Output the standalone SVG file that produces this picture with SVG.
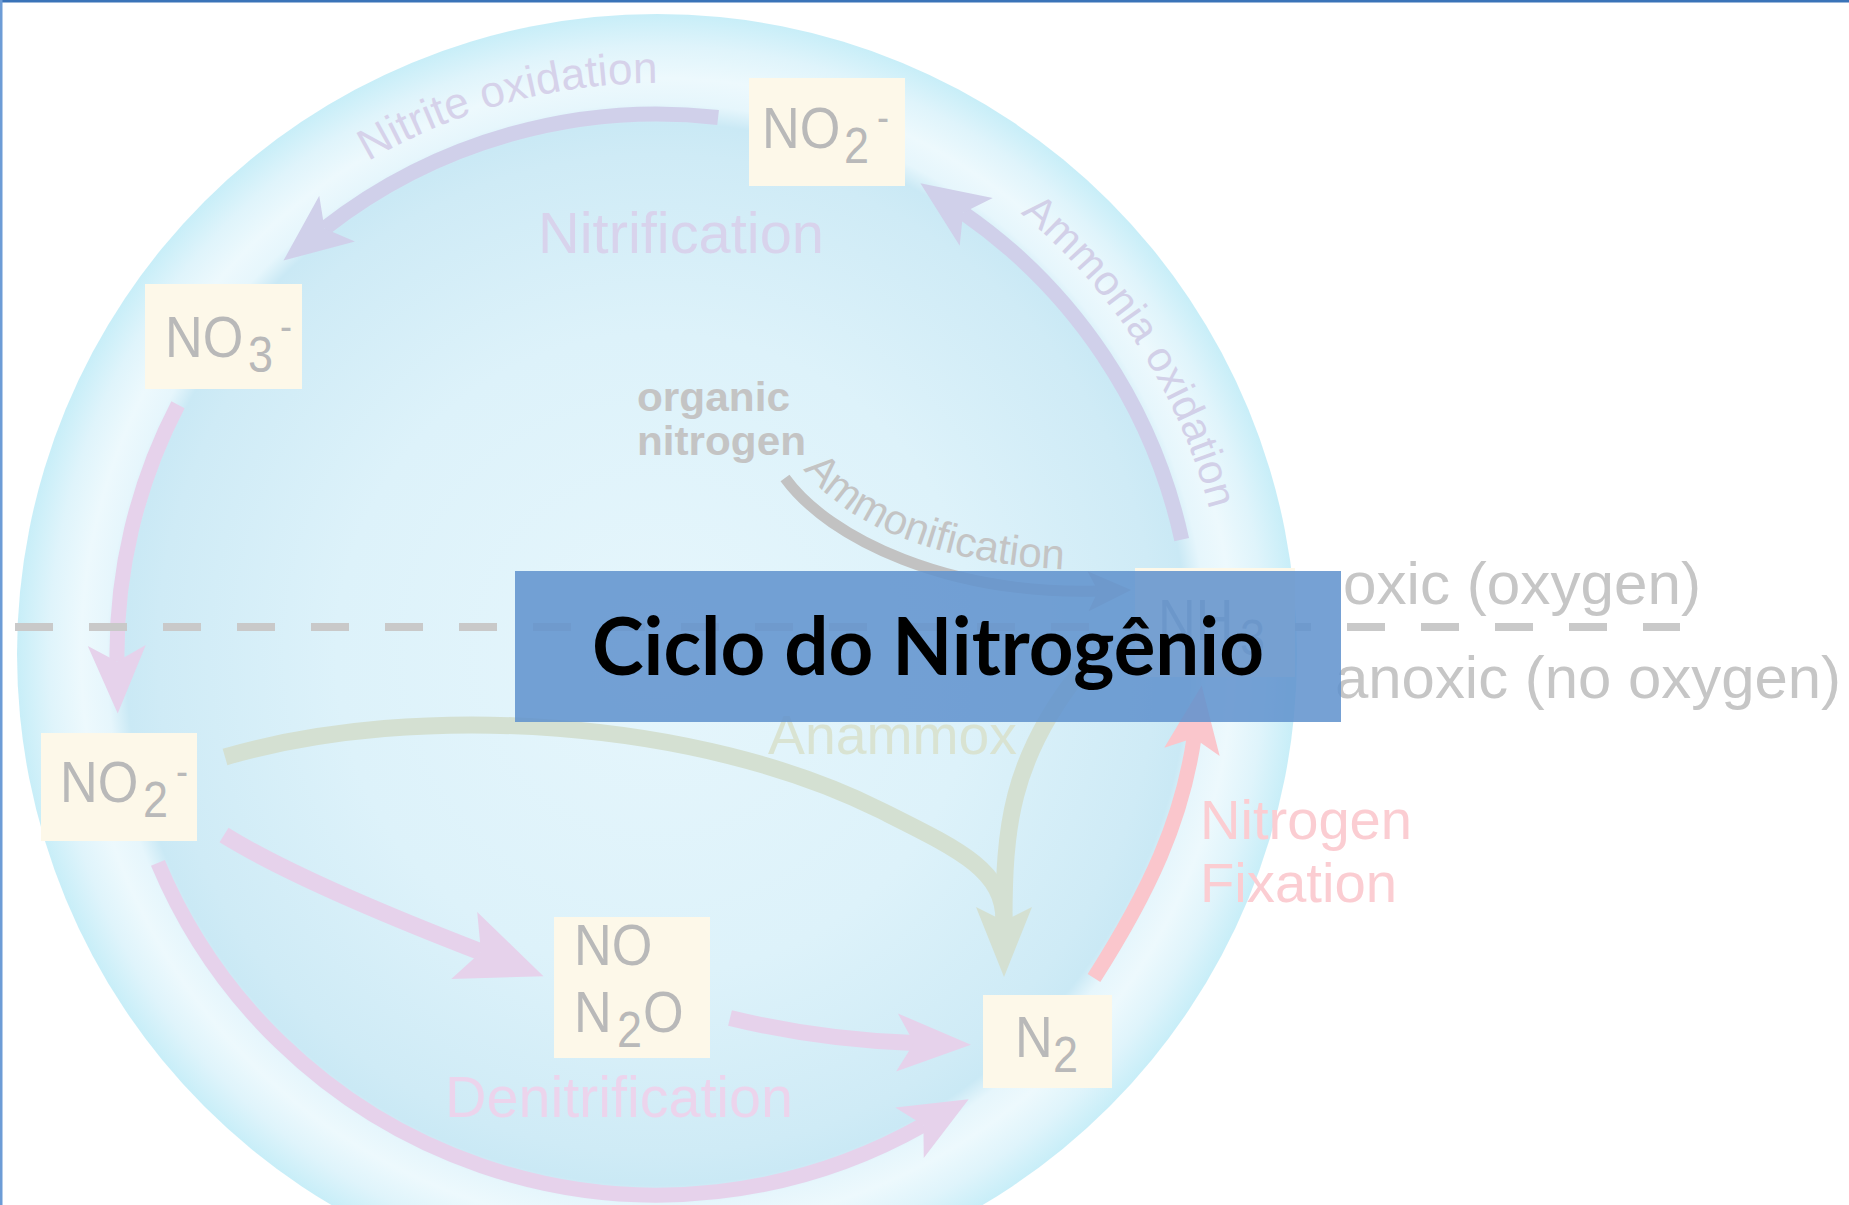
<svg xmlns="http://www.w3.org/2000/svg" width="1849" height="1205" viewBox="0 0 1849 1205">
<style>
.lbl{font-family:"Liberation Sans",Arial,sans-serif;}
.box{fill:#fdf8e9;}
.boxt{font-family:"Liberation Sans",Arial,sans-serif;font-size:58px;fill:#b9b9b9;}
.sub{font-size:50px;}
.sup{font-size:40px;}
.shaft{fill:none;stroke-linecap:butt;}
.lav{stroke:#d0d0ea;}
.pink{stroke:#e6d2eb;}
.green{stroke:#d4e0d2;}
.red{stroke:#fac6cc;}
.gray{stroke:#c2c2c2;}
</style>
<defs>
<radialGradient id="disk" gradientUnits="userSpaceOnUse" cx="657" cy="654" r="640">
<stop offset="0" stop-color="#e6f6fc"/>
<stop offset="0.5" stop-color="#ddf2fa"/>
<stop offset="0.78" stop-color="#cfebf6"/>
<stop offset="0.83" stop-color="#cae9f5"/>
<stop offset="0.86" stop-color="#e6f6fc"/>
<stop offset="0.9" stop-color="#edf9fd"/>
<stop offset="0.95" stop-color="#dff4fb"/>
<stop offset="1" stop-color="#c8eef8"/>
</radialGradient>
<marker id="hLav" markerUnits="userSpaceOnUse" orient="auto" overflow="visible" markerWidth="1" markerHeight="1" refX="0" refY="0"><path d="M52,0 L-16,-29 L0,0 L-16,29 Z" fill="#d0d0ea"/></marker>
<marker id="hPinkRing" markerUnits="userSpaceOnUse" orient="auto" overflow="visible" markerWidth="1" markerHeight="1" refX="0" refY="0"><path d="M52,0 L-16,-29 L0,0 L-16,29 Z" fill="#e6d2eb"/></marker>
<marker id="hPinkBig" markerUnits="userSpaceOnUse" orient="auto" overflow="visible" markerWidth="1" markerHeight="1" refX="0" refY="0"><path d="M67,0 L-18,-36 L0,0 L-18,36 Z" fill="#e6d2eb"/></marker>
<marker id="hPinkMed" markerUnits="userSpaceOnUse" orient="auto" overflow="visible" markerWidth="1" markerHeight="1" refX="0" refY="0"><path d="M57,0 L-17,-29 L0,0 L-17,29 Z" fill="#e6d2eb"/></marker>
<marker id="hGreen" markerUnits="userSpaceOnUse" orient="auto" overflow="visible" markerWidth="1" markerHeight="1" refX="0" refY="0"><path d="M56,0 L-14,-28 L0,0 L-14,28 Z" fill="#d4e0d2"/></marker>
<marker id="hRed" markerUnits="userSpaceOnUse" orient="auto" overflow="visible" markerWidth="1" markerHeight="1" refX="0" refY="0"><path d="M53,0 L-14,-28 L0,0 L-14,28 Z" fill="#fac6cc"/></marker>
<marker id="hGray" markerUnits="userSpaceOnUse" orient="auto" overflow="visible" markerWidth="1" markerHeight="1" refX="0" refY="0"><path d="M33,0 L-10,-20 L0,0 L-10,20 Z" fill="#c2c2c2"/></marker>
<path id="pNitrite" d="M329.5,186.2 A571,571 0 0 1 706.8,85.2"/>
<path id="pAmmOx" d="M984.5,186.2 A571,571 0 0 1 1228,654"/>
<path id="pAmmon" d="M801,466 C846,528 955,575 1130,570"/>
</defs>
<rect width="1849" height="1205" fill="#ffffff"/>
<circle id="cell" cx="657" cy="654" r="640" fill="url(#disk)"/>

<g id="connectors">
<path class="shaft lav" stroke-width="15" d="M718.1,117.5 A540,540 0 0 0 324.5,228.5" marker-end="url(#hLav)"/>
<path class="shaft lav" stroke-width="15" d="M1181.7,539.6 A537,537 0 0 0 963.1,212.8" marker-end="url(#hLav)"/>
<path class="shaft pink" stroke-width="15" d="M178,404.7 A540,540 0 0 0 117,661.5" marker-end="url(#hPinkRing)"/>
<path class="shaft pink" stroke-width="15" d="M157.9,862.8 A541,541 0 0 0 923.4,1124.9" marker-end="url(#hPinkRing)"/>
<path class="shaft pink" stroke-width="17" d="M224,835 Q300,882 481,952" marker-end="url(#hPinkBig)"/>
<path class="shaft pink" stroke-width="16" d="M730,1018 Q820,1040 914,1043" marker-end="url(#hPinkMed)"/>
<path class="shaft green" stroke-width="17" d="M1080,672 C1010,760 1004,830 1004,921"/>
<path class="shaft green" stroke-width="17" d="M225,757 C420,700 700,720 880,810 C960,850 1004,870 1004,921" marker-end="url(#hGreen)"/>
<path class="shaft red" stroke-width="15" d="M1094,978 C1150,890 1182,820 1194,738" marker-end="url(#hRed)"/>
<path class="shaft gray" stroke-width="11" d="M785,478 C830,540 950,595 1098,591" marker-end="url(#hGray)"/>
</g>

<line id="zone-line" x1="15" y1="627" x2="1680" y2="627" stroke="#c9c9c9" stroke-width="8" stroke-dasharray="38 36"/>

<g id="node-no2-top">
<rect class="box" x="749" y="78" width="156" height="108"/>
<text class="boxt" transform="translate(762,148) scale(0.9,1)" x="0" y="0">NO<tspan class="sub" x="91.1" y="15">2</tspan><tspan class="sup" x="127.8" y="-17">-</tspan></text>
</g>
<g id="node-no3">
<rect class="box" x="145" y="284" width="157" height="105"/>
<text class="boxt" transform="translate(165,357) scale(0.9,1)" x="0" y="0">NO<tspan class="sub" x="92.2" y="15">3</tspan><tspan class="sup" x="127.8" y="-17">-</tspan></text>
</g>
<g id="node-no2-low">
<rect class="box" x="41" y="733" width="156" height="108"/>
<text class="boxt" transform="translate(60,802) scale(0.9,1)" x="0" y="0">NO<tspan class="sub" x="92.2" y="15">2</tspan><tspan class="sup" x="128.9" y="-17">-</tspan></text>
</g>
<g id="node-no-n2o">
<rect class="box" x="554" y="917" width="156" height="141"/>
<text class="boxt" transform="translate(574,965) scale(0.9,1)" x="0" y="0">NO</text>
<text class="boxt" transform="translate(574,1032) scale(0.9,1)" x="0" y="0">N<tspan class="sub" x="47.8" y="15">2</tspan><tspan x="76.7" y="0">O</tspan></text>
</g>
<g id="node-n2">
<rect class="box" x="983" y="995" width="129" height="93"/>
<text class="boxt" transform="translate(1015,1057) scale(0.9,1)" x="0" y="0">N<tspan class="sub" x="42.2" y="15">2</tspan></text>
</g>
<g id="node-nh3">
<rect class="box" x="1135" y="568" width="160" height="109"/>
<text class="boxt" transform="translate(1158,640) scale(0.9,1)" x="0" y="0">NH<tspan class="sub" x="91.1" y="15">3</tspan></text>
</g>

<g id="labels" class="lbl">
<text x="538" y="253" font-size="57" fill="#d8d3ec" textLength="286" lengthAdjust="spacingAndGlyphs">Nitrification</text>
<text x="445" y="1117" font-size="57" fill="#ecd4ec" textLength="348" lengthAdjust="spacingAndGlyphs">Denitrification</text>
<text x="768" y="754" font-size="56" fill="#d9e3d2" textLength="249" lengthAdjust="spacingAndGlyphs">Anammox</text>
<text x="1200" y="839" font-size="56" fill="#fbcdd2" textLength="212" lengthAdjust="spacingAndGlyphs">Nitrogen</text>
<text x="1200" y="902" font-size="56" fill="#fbcdd2" textLength="197" lengthAdjust="spacingAndGlyphs">Fixation</text>
<text x="637" y="411" font-size="41" font-weight="bold" fill="#c4c4c4" textLength="153" lengthAdjust="spacingAndGlyphs">organic</text>
<text x="637" y="455" font-size="41" font-weight="bold" fill="#c4c4c4" textLength="169" lengthAdjust="spacingAndGlyphs">nitrogen</text>
<text x="1343" y="604" font-size="60" fill="#c6c6c6" textLength="358" lengthAdjust="spacingAndGlyphs">oxic (oxygen)</text>
<text x="1335" y="698" font-size="60" fill="#c6c6c6" textLength="506" lengthAdjust="spacingAndGlyphs">anoxic (no oxygen)</text>
<text font-size="44" fill="#d6d2ea"><textPath href="#pNitrite" startOffset="46">Nitrite oxidation</textPath></text>
<text font-size="42" fill="#d2d0e8"><textPath href="#pAmmOx" startOffset="45">Ammonia oxidation</textPath></text>
<text font-size="42" fill="#c4c4c4"><textPath href="#pAmmon" startOffset="4">Ammonification</textPath></text>
</g>

<g id="title">
<rect x="515" y="571" width="826" height="151" fill="#5f91cd" fill-opacity="0.86"/>
<text x="592" y="675" font-family="Lato,'Open Sans',sans-serif" font-weight="700" font-size="80" fill="#000000" textLength="672" lengthAdjust="spacingAndGlyphs">Ciclo do Nitrogênio</text>
</g>

<line x1="0" y1="1" x2="1849" y2="1" stroke="#3a73b8" stroke-width="3"/>
<line x1="1" y1="0" x2="1" y2="1205" stroke="#6d9cd6" stroke-width="3"/>
</svg>
